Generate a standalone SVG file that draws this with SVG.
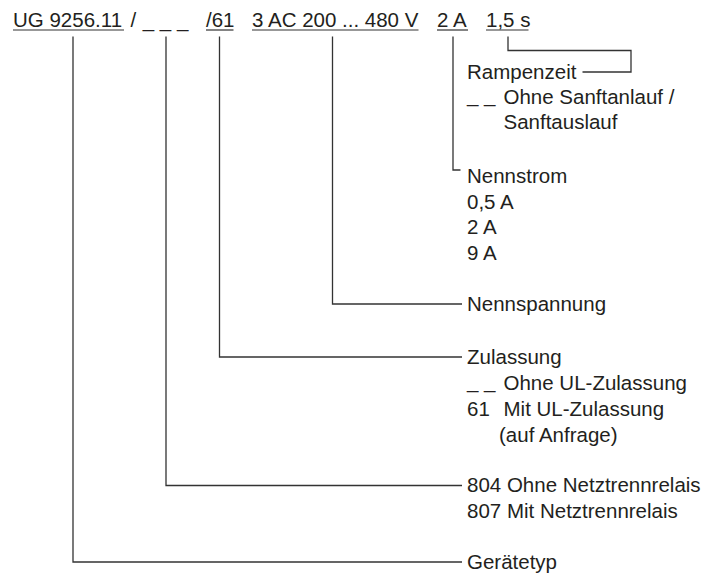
<svg xmlns="http://www.w3.org/2000/svg" width="719" height="578" viewBox="0 0 719 578">
  <style>
    text { font-family: "Liberation Sans", Arial, Helvetica, sans-serif; font-size: 20.5px; fill: #231f20; }
    .conn { fill: none; stroke: #333333; stroke-width: 1.3; }
    .ul { stroke: #333333; stroke-width: 1.2; }
  </style>
  <rect width="719" height="578" fill="#ffffff"/>

  <g id="header">
    <text x="13" y="27">UG 9256.11</text>
    <text x="130.5" y="27">/</text>
    <text x="142.7" y="27">_ _ _</text>
    <text x="206" y="27">/61</text>
    <text x="252" y="27">3 AC 200 ... 480 V</text>
    <text x="437" y="27">2 A</text>
    <text x="486" y="27">1,5 s</text>
    <line class="ul" x1="13" y1="30" x2="124" y2="30"/>
    <line class="ul" x1="206" y1="30" x2="233.5" y2="30"/>
    <line class="ul" x1="252" y1="30" x2="418.5" y2="30"/>
    <line class="ul" x1="437" y1="30" x2="468" y2="30"/>
    <line class="ul" x1="486" y1="30" x2="528.5" y2="30"/>
  </g>

  <g id="connectors">
    <path class="conn" d="M73,36.5 V562 H462"/>
    <path class="conn" d="M166,36.5 V485.5 H462"/>
    <path class="conn" d="M219.5,36.5 V357 H462"/>
    <path class="conn" d="M332.5,36.5 V304 H462"/>
    <path class="conn" d="M453,36.5 V170 H460.5"/>
    <path class="conn" d="M508,36.5 V50.5 H631 V72 H582.5"/>
  </g>

  <g id="rampenzeit">
    <text x="467" y="78.5">Rampenzeit</text>
    <text x="467" y="101.5">_ _</text>
    <text x="503.5" y="103.5">Ohne Sanftanlauf /</text>
    <text x="503.5" y="129">Sanftauslauf</text>
  </g>

  <g id="nennstrom">
    <text x="467" y="183">Nennstrom</text>
    <text x="467" y="208.5">0,5 A</text>
    <text x="467" y="234">2 A</text>
    <text x="467" y="260">9 A</text>
  </g>

  <g id="nennspannung">
    <text x="467" y="311">Nennspannung</text>
  </g>

  <g id="zulassung">
    <text x="467" y="364">Zulassung</text>
    <text x="467" y="388">_ _</text>
    <text x="503.5" y="390">Ohne UL-Zulassung</text>
    <text x="467" y="416">61</text>
    <text x="503.5" y="416">Mit UL-Zulassung</text>
    <text x="499" y="442">(auf Anfrage)</text>
  </g>

  <g id="netztrennrelais">
    <text x="467" y="492">804 Ohne Netztrennrelais</text>
    <text x="467" y="518">807 Mit Netztrennrelais</text>
  </g>

  <g id="geraetetyp">
    <text x="467" y="569">Gerätetyp</text>
  </g>
</svg>
